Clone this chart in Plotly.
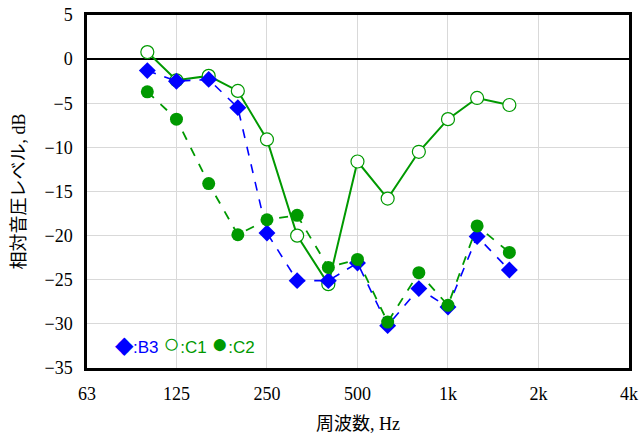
import numpy as np
import plotly.graph_objects as go

freqs = [100, 125, 160, 200, 250, 315, 400, 500, 630, 800, 1000, 1250, 1600]
b3 = [-1.3, -2.5, -2.3, -5.5, -19.7, -25.1, -25.1, -23.1, -30.2, -26.0, -28.1, -20.1, -23.9]
c1 = [0.8, -2.4, -1.9, -3.6, -9.1, -20.0, -25.5, -11.6, -15.8, -10.5, -6.8, -4.4, -5.2]
c2 = [-3.7, -6.8, -14.1, -19.9, -18.2, -17.7, -23.6, -22.7, -29.8, -24.2, -27.9, -18.9, -21.9]

xtick_vals = [63, 125, 250, 500, 1000, 2000, 4000]
xtick_text = ["63", "125", "250", "500", "1k", "2k", "4k"]
ytick_vals = list(range(5, -40, -5))

blue = "#0000FF"
green = "#009900"

fig = go.Figure()
fig.add_trace(go.Scatter(
    x=freqs, y=c1, mode="lines+markers", name="C1",
    line=dict(color=green, width=2),
    marker=dict(symbol="circle", size=13, color="white", line=dict(color=green, width=1.2)),
))
fig.add_trace(go.Scatter(
    x=freqs, y=b3, mode="lines+markers", name="B3",
    line=dict(color=blue, width=1.6, dash="dash"),
    marker=dict(symbol="diamond", size=13, color=blue, line=dict(width=0)),
))
fig.add_trace(go.Scatter(
    x=freqs, y=c2, mode="lines+markers", name="C2",
    line=dict(color=green, width=1.8, dash="dash"),
    marker=dict(symbol="circle", size=13, color=green, line=dict(width=0)),
))

serif = "Liberation Serif, Noto Sans CJK JP"

fig.update_layout(
    width=641, height=437,
    margin=dict(l=87, r=12, t=15, b=69),
    paper_bgcolor="white", plot_bgcolor="white",
    showlegend=False,
    xaxis=dict(
        type="log", range=[np.log10(63), np.log10(4000)],
        tickmode="array", tickvals=xtick_vals, ticktext=xtick_text,
        showgrid=True, gridcolor="#D9D9D9", gridwidth=1,
        showline=True, linecolor="black", linewidth=2.5, mirror=True,
        ticks="", ticklen=0, ticklabelstandoff=8,
        tickfont=dict(family=serif, size=18, color="black"),
        title=dict(text="周波数, Hz", font=dict(family=serif, size=18, color="black")),
        zeroline=False, automargin=False,
    ),
    yaxis=dict(
        range=[-35, 5], tickmode="array", tickvals=ytick_vals,
        showgrid=True, gridcolor="#D9D9D9", gridwidth=1,
        showline=True, linecolor="black", linewidth=2.5, mirror=True,
        zeroline=True, zerolinecolor="black", zerolinewidth=1.5,
        ticks="", ticklen=0, ticklabelstandoff=8,
        tickfont=dict(family=serif, size=18, color="black"),
        title=dict(text="相対音圧レベル, dB", font=dict(family=serif, size=18, color="black")),
        automargin=False,
    ),
)

legend_text = (
    f"<span style='color:{blue}'><span style='font-size:24px'>◆</span>:B3</span> "
    f"<span style='color:{green}'><span style='font-size:28px'>○</span>:C1</span> "
    f"<span style='color:{green}'><span style='font-size:28px'>●</span>:C2</span>"
)
fig.add_annotation(
    x=0.048, y=0.07, xref="paper", yref="paper", xanchor="left", yanchor="middle",
    text=legend_text, showarrow=False,
    font=dict(family="Liberation Sans", size=17),
)

post_js = """
document.body.style.margin='0';
function fixFonts(){
  document.querySelectorAll('.xtick text, .ytick text, .g-xtitle text, .g-ytitle text').forEach(function(t){
    t.style.fontFamily = "'Liberation Serif', 'Noto Sans CJK JP', serif";
  });
}
fixFonts();
setTimeout(fixFonts, 0);
setTimeout(fixFonts, 100);
setTimeout(fixFonts, 400);
"""

fig.write_html("out.html", config={"displayModeBar": False}, post_script=post_js)
